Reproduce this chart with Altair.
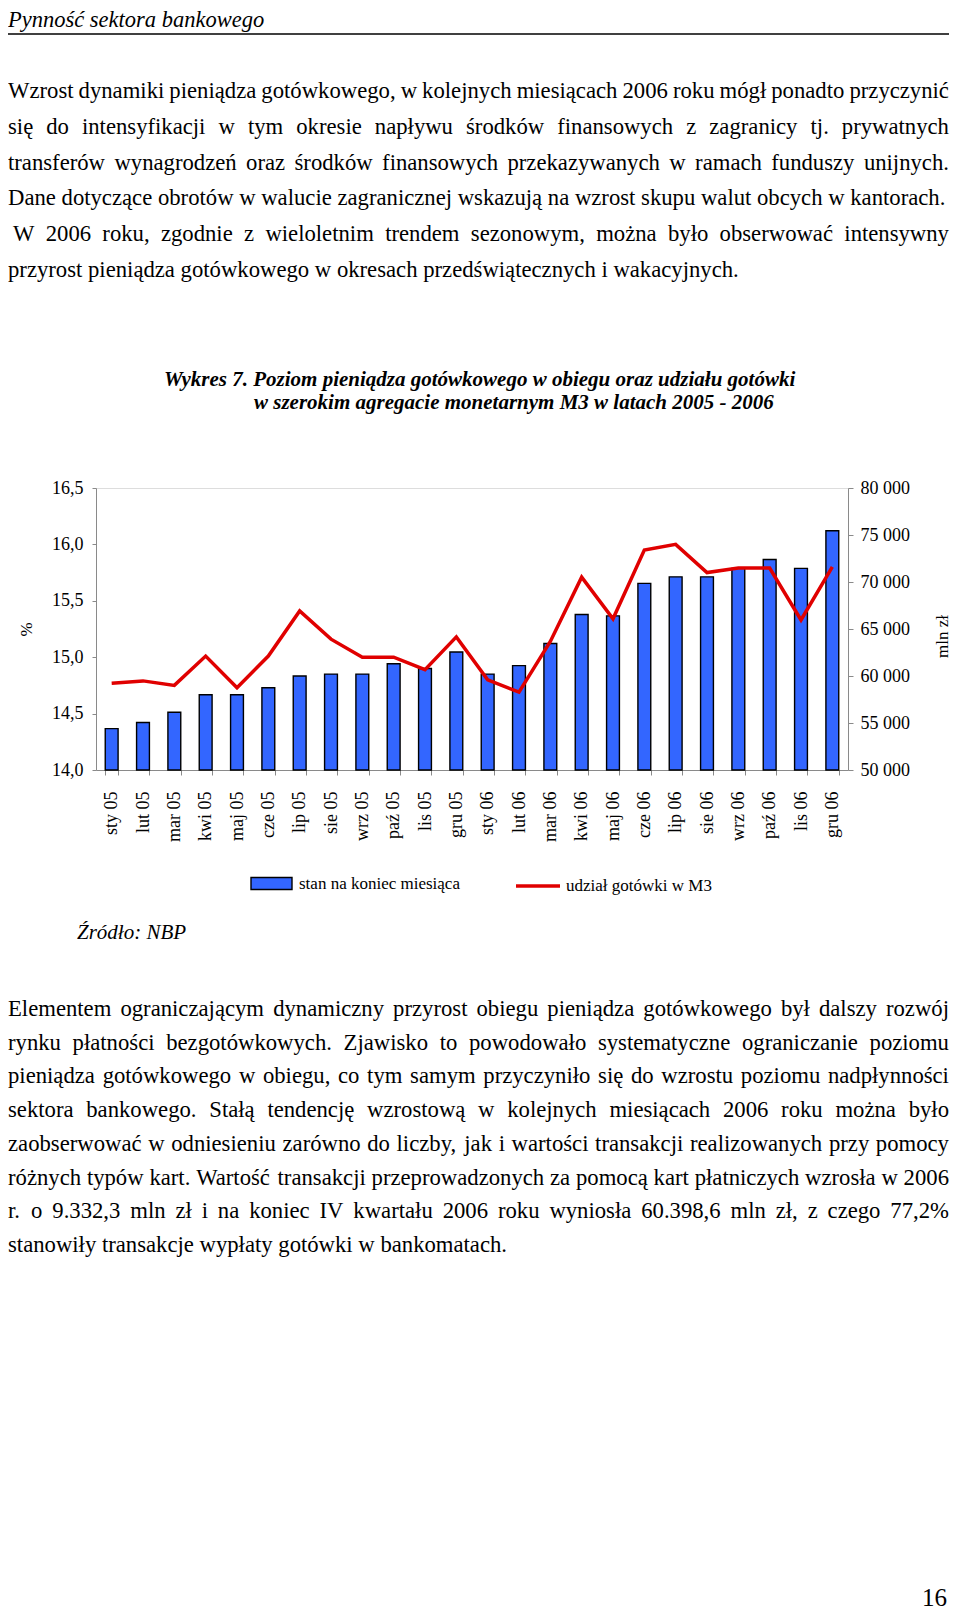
import altair as alt
import pandas as pd

# ---------------- data ----------------
months = ["sty 05", "lut 05", "mar 05", "kwi 05", "maj 05", "cze 05", "lip 05", "sie 05",
          "wrz 05", "paź 05", "lis 05", "gru 05", "sty 06", "lut 06", "mar 06", "kwi 06",
          "maj 06", "cze 06", "lip 06", "sie 06", "wrz 06", "paź 06", "lis 06", "gru 06"]
cash_mln = [54400, 55050, 56150, 58000, 58000, 58750, 60000, 60200, 60200, 61300, 60800, 62550,
            60200, 61100, 63450, 66550, 66400, 69850, 70550, 70550, 71450, 72400, 71450, 75450]
share_m3 = [14.77, 14.79, 14.75, 15.01, 14.73, 15.01, 15.41, 15.16, 15.00, 15.00, 14.89, 15.18,
            14.80, 14.69, 15.14, 15.71, 15.34, 15.95, 16.00, 15.75, 15.79, 15.79, 15.33, 15.80]
bar_series = "stan na koniec miesiąca"
line_series = "udział gotówki w M3"
left_ticks = [14.0, 14.5, 15.0, 15.5, 16.0, 16.5]
right_ticks = [50000, 55000, 60000, 65000, 70000, 75000, 80000]

header_text = "Pynność sektora bankowego"
para1 = [
    "Wzrost dynamiki pieniądza gotówkowego, w kolejnych miesiącach 2006 roku mógł ponadto przyczynić",
    "się do intensyfikacji w tym okresie napływu środków finansowych z zagranicy tj. prywatnych",
    "transferów wynagrodzeń oraz środków finansowych przekazywanych w ramach funduszy unijnych.",
    "Dane dotyczące obrotów w walucie zagranicznej wskazują na wzrost skupu walut obcych w kantorach.",
    " W 2006 roku, zgodnie z wieloletnim trendem sezonowym, można było obserwować intensywny",
    "przyrost pieniądza gotówkowego w okresach przedświątecznych i wakacyjnych.",
]
para1_justified = [True, True, True, False, True, False]
title_lines = [
    "Wykres 7. Poziom pieniądza gotówkowego w obiegu oraz udziału gotówki",
    "w szerokim agregacie monetarnym M3 w latach 2005 - 2006",
]
source_text = "Źródło: NBP"
para2 = [
    "Elementem ograniczającym dynamiczny przyrost obiegu pieniądza gotówkowego był dalszy rozwój",
    "rynku płatności bezgotówkowych. Zjawisko to powodowało systematyczne ograniczanie poziomu",
    "pieniądza gotówkowego w obiegu, co tym samym przyczyniło się do wzrostu poziomu nadpłynności",
    "sektora bankowego. Stałą tendencję wzrostową w kolejnych miesiącach 2006 roku można było",
    "zaobserwować w odniesieniu zarówno do liczby, jak i wartości transakcji realizowanych przy pomocy",
    "różnych typów kart. Wartość transakcji przeprowadzonych za pomocą kart płatniczych wzrosła w 2006",
    "r. o 9.332,3 mln zł i na koniec IV kwartału 2006 roku wyniosła 60.398,6 mln zł, z czego 77,2%",
    "stanowiły transakcje wypłaty gotówki w bankomatach.",
]
para2_justified = [True, True, True, True, True, True, True, False]
page_number = "16"

# ---------------- layout (page pixels -> plot-relative) ----------------
X0, Y0 = 96, 488          # plot origin on the page
PW, PH = 752, 282         # plot size
SERIF = "Liberation Serif"
LEFT = 8                  # leftmost page x reachable (body margin)
RIGHT = 949               # right edge for justified text
SVG_W = 944
BODY_SIZE = 22.7

# Times New Roman advance widths (per 1000 em) for justification
_W = dict(zip("abcdefghijklmnopqrstuvwxyz",
              [444, 500, 444, 500, 444, 333, 500, 500, 278, 278, 500, 278, 778,
               500, 500, 500, 500, 333, 389, 278, 500, 500, 722, 500, 500, 444]))
_W.update(dict(zip("ABCDEFGHIJKLMNOPQRSTUVWXYZ",
                   [722, 667, 667, 722, 611, 556, 722, 722, 333, 389, 722, 611, 889,
                    722, 722, 556, 722, 667, 556, 611, 722, 722, 944, 722, 722, 611])))
_W.update({"ą": 444, "ę": 444, "ć": 444, "ł": 278, "ń": 500, "ó": 500, "ś": 389,
           "ź": 444, "ż": 444, "Ś": 556, "Ź": 611, "Ż": 611, ".": 250, ",": 250,
           ":": 278, "%": 833, "-": 333, " ": 250})


def word_w(word, size):
    return sum(_W.get(c, 500) for c in word) * size / 1000.0


def paragraph_rows(lines, justified, y_first, step, size):
    rows = []
    for i, (line, just) in enumerate(zip(lines, justified)):
        y = y_first + i * step - Y0
        x_start = LEFT + (5 if line.startswith(" ") else 0)
        words = line.split()
        if just and len(words) > 1:
            widths = [word_w(w, size) for w in words]
            gap = (RIGHT - x_start - sum(widths)) / (len(words) - 1)
            x = x_start
            for w, ww in zip(words, widths):
                rows.append({"text": w, "x": x - X0, "y": y})
                x += ww + gap
        else:
            rows.append({"text": line.strip(), "x": x_start - X0, "y": y})
    return pd.DataFrame(rows)


def single(text, x_page, y_page):
    return pd.DataFrame({"text": [text], "x": [x_page - X0], "y": [y_page - Y0]})


def text_layer(df, **kw):
    return alt.Chart(df).mark_text(align=kw.pop("align", "left"), baseline="alphabetic",
                                   color="black", **kw).encode(
        x=alt.X("x:Q", scale=None, axis=None),
        y=alt.Y("y:Q", scale=None, axis=None),
        text="text:N",
    )


df = pd.DataFrame({"month": months, "cash": cash_mln, "share": share_m3,
                   "s_bar": bar_series, "s_line": line_series})

x_enc = alt.X("month:N", sort=months, title=None,
              scale=alt.Scale(paddingInner=0.59, paddingOuter=0.295),
              axis=alt.Axis(labelAngle=-90, labelAlign="right", labelBaseline="middle",
                            labelFont=SERIF, labelFontSize=18, labelColor="black",
                            labelPadding=16, tickSize=5, tickColor="#8a8a8a",
                            domainColor="#8a8a8a", tickBand="extent", grid=False,
                            labelOverlap=False))

bars = alt.Chart(df).mark_bar(stroke="black", strokeWidth=1.4).encode(
    x=x_enc,
    y=alt.Y("cash:Q", scale=alt.Scale(domain=[50000, 80000], nice=False, zero=False, clamp=True),
            axis=alt.Axis(orient="right", values=right_ticks,
                          labelExpr="replace(format(datum.value, ',d'), ',', ' ')",
                          labelFont=SERIF, labelFontSize=18, labelColor="black",
                          labelPadding=7, tickSize=5, tickColor="#8a8a8a",
                          domainColor="#8a8a8a", grid=False,
                          title="mln zł", titleAngle=270, titleX=94, titleY=148,
                          titleAlign="center", titleBaseline="middle",
                          titleFont=SERIF, titleFontSize=17, titleFontWeight="normal",
                          titleColor="black")),
    fill=alt.Fill("s_bar:N", scale=alt.Scale(range=["#3366ff"]),
                  legend=alt.Legend(title=None, orient="none", legendX=154, legendY=374,
                                    padding=0, direction="horizontal",
                                    symbolType="M-1,-0.29L1,-0.29L1,0.29L-1,0.29Z",
                                    symbolSize=1681, symbolStrokeColor="black",
                                    symbolStrokeWidth=1.4, symbolOpacity=1,
                                    labelFont=SERIF, labelFontSize=17, labelColor="black",
                                    labelOffset=6, labelLimit=400)),
)

line = alt.Chart(df).mark_line(strokeWidth=3.5).encode(
    x=alt.X("month:N", sort=months),
    y=alt.Y("share:Q", scale=alt.Scale(domain=[14.0, 16.5], nice=False, zero=False),
            axis=alt.Axis(orient="left", values=left_ticks,
                          labelExpr="replace(format(datum.value, '.1f'), '.', ',')",
                          labelFont=SERIF, labelFontSize=18, labelColor="black",
                          labelPadding=9, tickSize=4, tickColor="#8a8a8a",
                          domainColor="#8a8a8a", grid=False,
                          title="%", titleAngle=270, titleX=-70, titleY=141,
                          titleAlign="center", titleBaseline="middle",
                          titleFont=SERIF, titleFontSize=17, titleFontWeight="normal",
                          titleColor="black")),
    stroke=alt.Stroke("s_line:N", scale=alt.Scale(range=["#e00000"]),
                      legend=alt.Legend(title=None, orient="none", legendX=418, legendY=374,
                                        padding=0, direction="horizontal",
                                        symbolType="stroke", symbolSize=1936,
                                        symbolStrokeWidth=3.5,
                                        labelFont=SERIF, labelFontSize=17, labelColor="black",
                                        labelOffset=4, labelLimit=400)),
)

chart_core = alt.layer(bars, line).resolve_scale(y="independent", fill="independent",
                                                  stroke="independent")

# page texts
header = text_layer(single(header_text, LEFT, 27), font=SERIF, fontSize=22.5, fontStyle="italic")
rule = alt.Chart(pd.DataFrame({"k": [0]})).mark_rule(color="black", strokeWidth=1.6).encode(
    x=alt.value(LEFT - X0), x2=alt.value(RIGHT - X0), y=alt.value(34 - Y0))
p1 = text_layer(paragraph_rows(para1, para1_justified, 98, 35.8, BODY_SIZE),
                font=SERIF, fontSize=BODY_SIZE)
t1 = text_layer(single(title_lines[0], 164, 386), font=SERIF, fontSize=21,
                fontStyle="italic", fontWeight="bold")
t2 = text_layer(single(title_lines[1], 254, 409), font=SERIF, fontSize=21,
                fontStyle="italic", fontWeight="bold")
src = text_layer(single(source_text, 77, 939), font=SERIF, fontSize=21, fontStyle="italic")
p2 = text_layer(paragraph_rows(para2, para2_justified, 1016, 33.7, BODY_SIZE),
                font=SERIF, fontSize=BODY_SIZE)
pg = text_layer(single(page_number, 947, 1606), font=SERIF, fontSize=25, align="right")

chart = alt.layer(chart_core, header, rule, p1, t1, t2, src, p2, pg).properties(
    width=PW, height=PH,
    autosize=alt.AutoSizeParams(type="none"),
    padding={"left": X0 - 8, "top": Y0 - 8, "right": SVG_W - (X0 - 8) - PW,
             "bottom": 1605 - (Y0 - 8) - PH},
).configure_view(stroke=None).configure(background="white")

chart.save("out.html", embed_options={"renderer": "svg", "actions": False})
